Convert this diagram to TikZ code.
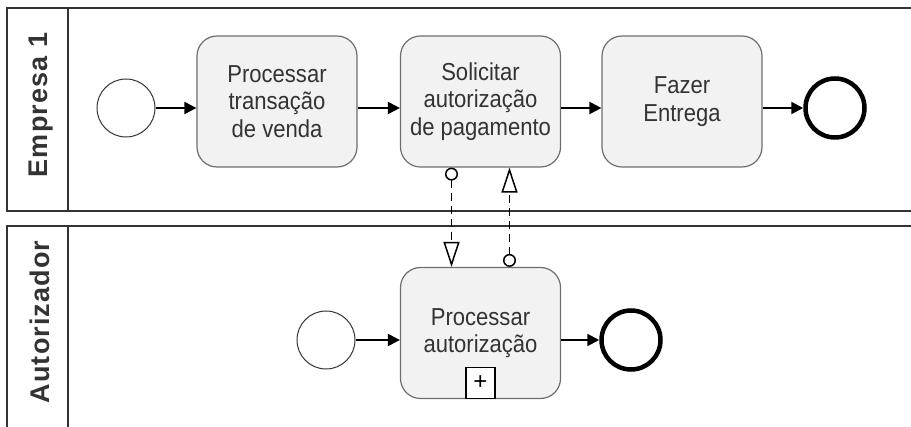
\documentclass[tikz,border=0pt]{standalone}
\usepackage{fontspec}
\setmainfont{Liberation Sans}
\usepackage{tikz}
\usetikzlibrary{arrows.meta}
\definecolor{bordo}{HTML}{333333}
\definecolor{grigio}{HTML}{6E6E6E}
\definecolor{sfondo}{HTML}{F2F2F2}

\begin{document}
\begin{tikzpicture}[x=1pt, y=-1pt,
    attivita/.style={rectangle, rounded corners=20pt, draw=grigio, line width=1.2pt, fill=sfondo, minimum width=160pt, minimum height=131pt, inner sep=0pt, align=center, text=bordo, font=\fontsize{24.5}{27.5}\selectfont\addfontfeature{FakeStretch=0.9}},
    inizio/.style={circle, draw=bordo, line width=1pt, minimum size=58pt, inner sep=0pt},
    fine/.style={circle, draw=black, line width=4.5pt, minimum size=59pt, inner sep=0pt},
    corsia/.style={rotate=90, text=bordo, font=\fontsize{27}{27}\selectfont\bfseries\addfontfeature{LetterSpace=4}},
    pool/.style={draw=bordo, line width=2pt},
    flusso/.style={line width=2pt, -{Triangle[length=12pt, width=12pt]}},
    messaggio/.style={line width=1.5pt, dash pattern=on 8pt off 5pt, {Circle[length=13pt, fill=white]}-{Triangle[length=25pt, width=16pt, fill=white]}}]
        \useasboundingbox (0,0) rectangle (911,427);
        \clip (0,0) rectangle (911,427);

        % Pool
        \draw[pool] (7,8) rectangle (930,211);
        \draw[pool] (68,8) -- (68,211);
        \draw[pool] (7,226) rectangle (930,450);
        \draw[pool] (68,226) -- (68,450);
        \node[corsia] (L1) at (41,105) {Empresa 1};
        \node[corsia] (L2) at (40,322) {Autorizador};

        % Empresa 1
        \node[inizio] (S1) at (126,108) {};
        \node[attivita] (A1) at (277,101.5) {Processar\\transação\\de venda};
        \node[attivita] (A2) at (480.5,101.5) {Solicitar\\autorização\\de pagamento};
        \node[attivita] (A3) at (682,101.5) {Fazer\\Entrega};
        \node[fine] (F1) at (835,108) {};

        % Autorizador
        \node[inizio] (S2) at (326,340) {};
        \node[attivita] (A4) at (480.5,333) {Processar\\autorização};
        \node[draw=black, line width=1.2pt, fill=white, minimum width=29pt, minimum height=31pt, inner sep=0pt, anchor=south, font=\fontsize{24}{24}\selectfont] (P4) at (A4.south) {+};
        \node[fine] (F2) at (631,340) {};

        % Collegamenti
        \draw[flusso] (S1) -- (A1.west |- S1);
        \draw[flusso] (A1.east |- S1) -- (A2.west |- S1);
        \draw[flusso] (A2.east |- S1) -- (A3.west |- S1);
        \draw[flusso] (A3.east |- F1) -- (F1);
        \draw[flusso] (S2) -- (A4.west |- S2);
        \draw[flusso] (A4.east |- F2) -- (F2);

        % Messaggi
        \draw[messaggio] ([xshift=-29pt]A2.south) -- ([xshift=-29pt]A4.north);
        \draw[messaggio] ([xshift=29pt]A4.north) -- ([xshift=29pt]A2.south);
    \end{tikzpicture}
\end{document}
